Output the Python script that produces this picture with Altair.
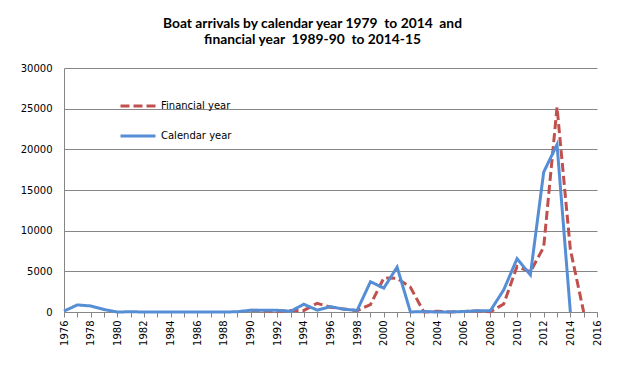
import altair as alt
import pandas as pd

cal_years = list(range(1976, 2015))
cal_values = [111, 868, 746, 304, 0, 30, 0, 0, 0, 0, 0, 0, 0, 26, 224, 214, 216, 81,
              953, 237, 660, 339, 200, 3721, 2939, 5516, 1, 53, 0, 11, 60, 148, 161,
              2726, 6555, 4565, 17202, 20587, 0]

fin_years = list(range(1990, 2016))
fin_values = [224, 158, 78, 194, 194, 1071, 589, 365, 157, 921, 4175, 4137, 3039, 0,
              82, 0, 61, 133, 25, 985, 5609, 4940, 7983, 25173, 7700, 0]

series_names = ["Financial year", "Calendar year"]
series_colors = ["#C0504D", "#558ED5"]

df = pd.concat([
    pd.DataFrame({"year": fin_years, "value": fin_values, "series": series_names[0]}),
    pd.DataFrame({"year": cal_years, "value": cal_values, "series": series_names[1]}),
])

FONT = "DejaVu Sans"
GRAY = "#868686"

x = alt.X("year:Q", scale=alt.Scale(domain=[1976, 2016], nice=False, zero=False),
          axis=alt.Axis(values=list(range(1976, 2017)), format="d",
                        labelExpr="datum.value % 2 == 0 ? datum.label : ''",
                        labelAngle=270, labelOverlap=False, labelFlush=False,
                        tickSize=5, tickColor=GRAY, domainColor=GRAY, grid=False,
                        title=None, labelFont=FONT, labelFontSize=10, labelColor="#000",
                        labelPadding=3))
y = alt.Y("value:Q", scale=alt.Scale(domain=[0, 30000], nice=False),
          axis=alt.Axis(values=list(range(0, 30001, 5000)), format="d", ticks=False,
                        grid=True, gridColor=GRAY, domainColor=GRAY, title=None,
                        labelFont=FONT, labelFontSize=10, labelColor="#000",
                        labelPadding=12))
color = alt.Color("series:N", scale=alt.Scale(domain=series_names, range=series_colors),
                  title=None)
dash = alt.StrokeDash("series:N", scale=alt.Scale(domain=series_names,
                                                  range=[[9, 4], [1, 0]]),
                      title=None)

base = alt.Chart(df).mark_line(strokeWidth=3).encode(x=x, y=y, color=color, strokeDash=dash)

fin = base.transform_filter(alt.datum.series == series_names[0])
cal = base.transform_filter(alt.datum.series == series_names[1])

chart = alt.layer(fin, cal).properties(
    width=533, height=244,
    padding={"left": 56, "top": 60, "right": 19, "bottom": 40},
    autosize=alt.AutoSizeParams(type="none"),
    title=alt.TitleParams(
        text=["Boat arrivals by calendar year 1979\u00a0 to 2014\u00a0 and",
              "financial year\u00a0 1989-90\u00a0 to 2014-15"],
        font="Lato", fontSize=13.8, fontWeight="bold", color="#000",
        anchor="middle", dx=-18, offset=16, lineHeight=16,
    ),
).configure_view(stroke=None).configure_legend(
    orient="none", legendX=55, legendY=19, padding=0,
    symbolType="stroke", symbolSize=1225, symbolStrokeWidth=3,
    labelFont=FONT, labelFontSize=10, labelColor="#000", labelOffset=4,
    rowPadding=-2 + 7,
)

chart.save("out.html", embed_options={"renderer": "svg", "actions": False})
